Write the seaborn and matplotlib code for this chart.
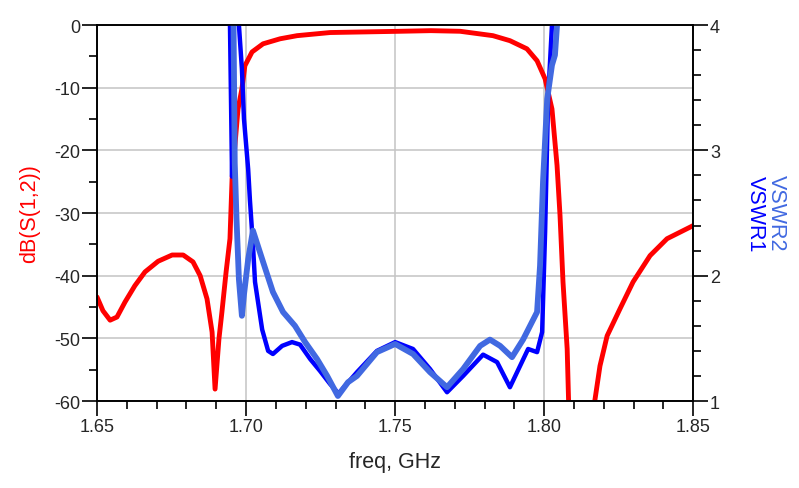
import numpy as np
import pandas as pd
import seaborn as sns
import matplotlib.pyplot as plt
from matplotlib.ticker import MultipleLocator

# dB(S(1,2))
freq_s12 = [1.6500, 1.6520, 1.6544, 1.6567, 1.6594, 1.6627, 1.6661, 1.6705, 1.6752,
            1.6789, 1.6822, 1.6846, 1.6869, 1.6886, 1.6896, 1.6909, 1.6919, 1.6933,
            1.6946, 1.6953, 1.6973, 1.6986, 1.6996, 1.7020, 1.7057, 1.7114, 1.7171,
            1.7282, 1.7400, 1.7516, 1.7620, 1.7718, 1.7828, 1.7885, 1.7942, 1.7976,
            1.8003, 1.8026, 1.8043, 1.8053, 1.8063, 1.8077, 1.8082, 1.8100, 1.8150,
            1.8168, 1.8187, 1.8211, 1.8254, 1.8298, 1.8355, 1.8412, 1.8500]
s12_db = [-43.4, -45.6, -47.1, -46.6, -44.2, -41.6, -39.4, -37.7, -36.7,
          -36.7, -37.8, -40.0, -43.7, -49.0, -58.1, -50.1, -45.8, -39.4,
          -34.1, -24.6, -13.4, -10.2, -6.5, -4.3, -3.0, -2.2, -1.7,
          -1.2, -1.1, -1.0, -0.9, -1.0, -1.7, -2.5, -3.8, -5.7,
          -8.6, -13.4, -22.4, -30.4, -41.0, -51.7, -60.5, -75.0, -75.0,
          -60.5, -54.4, -49.6, -45.3, -41.0, -36.8, -34.1, -32.0]

# VSWR1 (port 1)
freq_v1 = [1.6500, 1.6930, 1.6946, 1.6953, 1.6960, 1.6968, 1.6976, 1.6986, 1.6993,
           1.7007, 1.7013, 1.7023, 1.7030, 1.7054, 1.7074, 1.7090, 1.7121, 1.7154,
           1.7181, 1.7215, 1.7248, 1.7282, 1.7310, 1.7372, 1.7439, 1.7500, 1.7560,
           1.7617, 1.7674, 1.7728, 1.7795, 1.7842, 1.7885, 1.7919, 1.7946, 1.7976,
           1.7993, 1.8003, 1.8013, 1.8026, 1.8040, 1.8500]
vswr1 = [8.0, 6.0, 4.0, 2.79, 4.2, 5.0, 4.0, 3.65, 3.25,
         2.85, 2.6, 2.25, 1.95, 1.57, 1.40, 1.375, 1.44, 1.47,
         1.45, 1.335, 1.24, 1.135, 1.06, 1.23, 1.40, 1.47, 1.415,
         1.255, 1.07, 1.20, 1.37, 1.31, 1.11, 1.28, 1.415, 1.39,
         1.55, 2.35, 3.41, 4.0, 5.0, 8.0]

# VSWR2 (port 2)
freq_v2 = [1.6500, 1.6940, 1.6958, 1.6962, 1.6968, 1.6976, 1.6986, 1.6993, 1.7007,
           1.7023, 1.7057, 1.7090, 1.7124, 1.7164, 1.7198, 1.7238, 1.7272, 1.7308,
           1.7342, 1.7372, 1.7439, 1.7500, 1.7560, 1.7617, 1.7674, 1.7728, 1.7785,
           1.7818, 1.7852, 1.7892, 1.7929, 1.7976, 1.7986, 1.7996, 1.8010, 1.8026,
           1.8036, 1.8043, 1.8060, 1.8500]
vswr2 = [8.0, 6.0, 4.0, 2.9, 2.45, 1.97, 1.68, 1.85, 2.13,
         2.36, 2.11, 1.87, 1.71, 1.60, 1.47, 1.335, 1.20, 1.04,
         1.15, 1.20, 1.39, 1.455, 1.375, 1.23, 1.11, 1.255, 1.44,
         1.49, 1.44, 1.35, 1.49, 1.71, 2.08, 2.75, 3.41, 3.68,
         3.76, 4.0, 5.0, 8.0]

sns.set_style("white")
plt.rcParams['font.family'] = ['Liberation Sans', 'DejaVu Sans']
plt.rcParams['axes.unicode_minus'] = False

fig = plt.figure(figsize=(7.99, 4.89), dpi=100)
ax = fig.add_axes([0.1214, 0.1779, 0.7463, 0.7689])
ax2 = ax.twinx()

sns.lineplot(x=freq_s12, y=s12_db, ax=ax, color='#ff0000', linewidth=3.5)
sns.lineplot(x=freq_v1, y=vswr1, ax=ax2, color='#0000ff', linewidth=3.2)
sns.lineplot(x=freq_v2, y=vswr2, ax=ax2, color='#4169e1', linewidth=4.2)

ax.set_xlim(1.65, 1.85)
ax.set_ylim(-60, 0)
ax2.set_ylim(1, 4)

ax.xaxis.set_major_locator(MultipleLocator(0.05))
ax.xaxis.set_minor_locator(MultipleLocator(0.01))
ax.yaxis.set_major_locator(MultipleLocator(10))
ax.yaxis.set_minor_locator(MultipleLocator(5))
ax2.yaxis.set_major_locator(MultipleLocator(1))
ax2.yaxis.set_minor_locator(MultipleLocator(0.2))
ax.set_xticklabels([f"{v:.2f}" for v in ax.get_xticks()])

ax.grid(True, which='major', color='#c4c4c4', linewidth=1.1)
ax2.grid(False)

for a in (ax, ax2):
    for s in a.spines.values():
        s.set_color('black')
        s.set_linewidth(1.2)
    a.tick_params(which='major', length=11, width=1.2, color='black', labelsize=13, pad=1)
    a.tick_params(which='minor', length=6, width=1.2, color='black')
ax.tick_params(axis='both', which='both', direction='out', bottom=True, left=True)
ax2.tick_params(axis='y', which='both', direction='out', right=True)

ax.set_xlabel("freq, GHz", fontsize=15.5, labelpad=12)
ax.set_ylabel("dB(S(1,2))", fontsize=15.5, color='#ff0000', labelpad=10)
ax2.set_ylabel("")

fig.text(0.945, 0.563, "VSWR1", rotation=-90, fontsize=15.5, color='#0000ff',
         ha='center', va='center')
fig.text(0.972, 0.563, "VSWR2", rotation=-90, fontsize=15.5, color='#4169e1',
         ha='center', va='center')

fig.savefig("out.png", dpi=100)
